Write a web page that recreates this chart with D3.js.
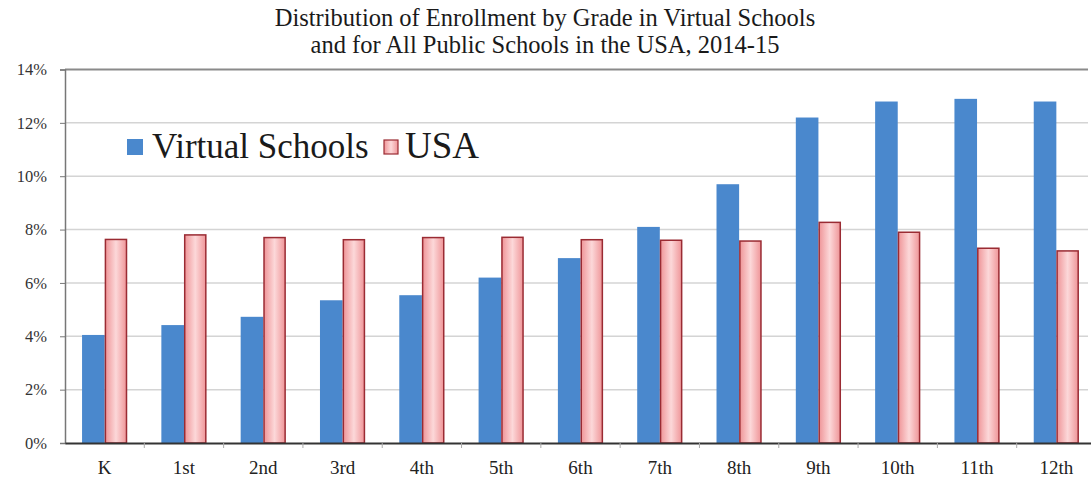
<!DOCTYPE html>
<html>
<head>
<meta charset="utf-8">
<script src="https://cdn.jsdelivr.net/npm/d3@7"></script>
<style>
  html, body { margin: 0; padding: 0; background: #fff; }
  svg { display: block; }
  text { font-family: "Liberation Serif", "Times New Roman", serif; }
</style>
</head>
<body>
<svg id="chart" width="1091" height="479"></svg>
<script>
const titleLines = ["Distribution of Enrollment by Grade in Virtual Schools",
                    "and for All Public Schools in the USA, 2014-15"];
const grades = ["K", "1st", "2nd", "3rd", "4th", "5th", "6th", "7th", "8th", "9th", "10th", "11th", "12th"];
const virtualSchools = [4.05, 4.42, 4.73, 5.35, 5.54, 6.2, 6.93, 8.1, 9.7, 12.2, 12.8, 12.9, 12.8];
const usa = [7.63, 7.8, 7.7, 7.62, 7.7, 7.71, 7.62, 7.6, 7.57, 8.27, 7.9, 7.3, 7.2];
const yTicks = [0, 2, 4, 6, 8, 10, 12, 14];
const seriesNames = ["Virtual Schools", "USA"];

const FONT = "'Liberation Serif', 'Times New Roman', serif";
const svg = d3.select("#chart");
const M = { left: 65, right: 1096, top: 69.5, bottom: 443 };

const defs = svg.append("defs");
const grad = defs.append("linearGradient").attr("id", "pinkGrad")
  .attr("x1", "0%").attr("x2", "100%").attr("y1", "0%").attr("y2", "0%");
grad.append("stop").attr("offset", "0%").attr("stop-color", "#ef9598");
grad.append("stop").attr("offset", "50%").attr("stop-color", "#fcd8d9");
grad.append("stop").attr("offset", "100%").attr("stop-color", "#ef9598");

const x = d3.scaleBand().domain(grades).range([M.left, M.right]).paddingInner(0).paddingOuter(0);
const y = d3.scaleLinear().domain([0, 14]).range([M.bottom, M.top]);

// gridlines
svg.append("g").selectAll("line").data(yTicks.filter(t => t > 0)).join("line")
  .attr("x1", M.left).attr("x2", 1088)
  .attr("y1", d => y(d)).attr("y2", d => y(d))
  .attr("stroke", d => d === 14 ? "#8a8a8a" : "#d4d4d4")
  .attr("stroke-width", d => d === 14 ? 2 : 1.5);

// y axis
const yAxis = d3.axisLeft(y).tickValues(yTicks).tickFormat(d => d + "%").tickSize(5).tickPadding(13);
const gy = svg.append("g").attr("transform", `translate(${M.left},0)`).call(yAxis);
gy.attr("font-family", FONT);
gy.select(".domain").attr("stroke", "#777").attr("stroke-width", 1.5);
gy.selectAll(".tick line").attr("stroke", "#777");
gy.selectAll("text").attr("font-size", 16.5).attr("fill", "#333").style("font-family", FONT);

const step = x.bandwidth();
const barW = step * 0.285;

// bars
const g = svg.append("g");
g.selectAll("rect.vs").data(grades).join("rect").attr("class", "vs")
  .attr("x", d => x(d) + step / 2 - barW)
  .attr("width", barW)
  .attr("y", (d, i) => y(virtualSchools[i]))
  .attr("height", (d, i) => M.bottom - y(virtualSchools[i]))
  .attr("fill", "#4a88cd");
g.selectAll("rect.us").data(grades).join("rect").attr("class", "us")
  .attr("x", d => x(d) + step / 2 + 0.75)
  .attr("width", barW - 1.5)
  .attr("y", (d, i) => y(usa[i]))
  .attr("height", (d, i) => M.bottom - y(usa[i]))
  .attr("fill", "url(#pinkGrad)")
  .attr("stroke", "#9a2b33").attr("stroke-width", 1.5);

// x axis
const xAxis = d3.axisBottom(x).tickSize(0).tickPadding(18);
const gx = svg.append("g").attr("transform", `translate(0,${M.bottom})`).call(xAxis);
gx.attr("font-family", FONT);
gx.select(".domain").attr("stroke", "#333").attr("stroke-width", 2);
gx.selectAll("text").attr("font-size", 19).attr("fill", "#222").style("font-family", FONT);
// boundary ticks
svg.append("g").selectAll("line").data(grades.slice(1)).join("line")
  .attr("x1", d => x(d)).attr("x2", d => x(d))
  .attr("y1", M.bottom).attr("y2", M.bottom + 5)
  .attr("stroke", "#aaa");

// title
svg.append("g").selectAll("text").data(titleLines).join("text")
  .attr("x", 545).attr("y", (d, i) => 25.5 + i * 27.5)
  .attr("text-anchor", "middle").attr("font-size", 24.5).attr("fill", "#1a1a1a")
  .style("font-family", FONT)
  .text(d => d);

// legend
const lg = svg.append("g");
lg.append("rect").attr("x", 127).attr("y", 139).attr("width", 16).attr("height", 16).attr("fill", "#4a88cd");
lg.append("text").attr("x", 152).attr("y", 158).attr("font-size", 35).attr("fill", "#1a1a1a")
  .style("font-family", FONT).text(seriesNames[0]);
lg.append("rect").attr("x", 384).attr("y", 140).attr("width", 14).attr("height", 14)
  .attr("fill", "url(#pinkGrad)").attr("stroke", "#9a2b33").attr("stroke-width", 1.2);
lg.append("text").attr("x", 405).attr("y", 158).attr("font-size", 37).attr("fill", "#1a1a1a")
  .style("font-family", FONT).text(seriesNames[1]);
</script>
</body>
</html>
